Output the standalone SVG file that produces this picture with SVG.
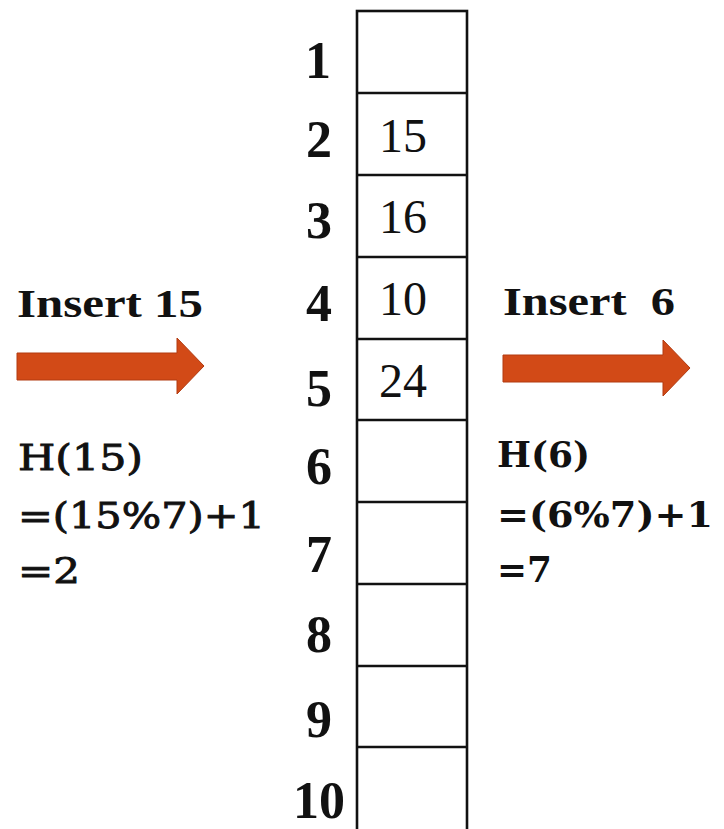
<svg xmlns="http://www.w3.org/2000/svg" width="724" height="829" viewBox="0 0 724 829">
<style>
.cell{fill:#fff;stroke:#111;stroke-width:2.6}
.idx{font-family:"Liberation Serif",serif;font-weight:bold;font-size:52px;fill:#111;text-anchor:middle}
.val{font-family:"Liberation Serif",serif;font-size:48px;fill:#111}
.ins{font-family:"Liberation Serif",serif;font-weight:bold;font-size:41px;fill:#111}
.f{font-family:"DejaVu Serif","Liberation Serif",serif;font-size:35px;fill:#111;stroke:#111;stroke-width:0.9}
.fb{font-family:"DejaVu Serif","Liberation Serif",serif;font-weight:bold;font-size:35px;fill:#111}
.arrow{fill:#D24A17;stroke:#B23A10;stroke-width:1}
</style>
<rect width="724" height="829" fill="#fff"/>
<g id="table">
<rect class="cell" x="357" y="11" width="110" height="830"/>
<g stroke="#111" stroke-width="2.6">
<line x1="357" y1="93" x2="467" y2="93"/>
<line x1="357" y1="175" x2="467" y2="175"/>
<line x1="357" y1="257" x2="467" y2="257"/>
<line x1="357" y1="339" x2="467" y2="339"/>
<line x1="357" y1="420" x2="467" y2="420"/>
<line x1="357" y1="502" x2="467" y2="502"/>
<line x1="357" y1="584" x2="467" y2="584"/>
<line x1="357" y1="666" x2="467" y2="666"/>
<line x1="357" y1="747" x2="467" y2="747"/>
</g>
</g>
<g id="indices">
<text class="idx" x="318" y="78">1</text>
<text class="idx" x="319" y="157">2</text>
<text class="idx" x="319" y="238">3</text>
<text class="idx" x="319" y="321">4</text>
<text class="idx" x="319" y="406">5</text>
<text class="idx" x="319" y="484">6</text>
<text class="idx" x="319" y="572">7</text>
<text class="idx" x="319" y="652">8</text>
<text class="idx" x="319" y="737">9</text>
<text class="idx" x="319" y="818">10</text>
</g>
<g id="values">
<text class="val" x="379" y="152">15</text>
<text class="val" x="379" y="233">16</text>
<text class="val" x="379" y="315">10</text>
<text class="val" x="379" y="397">24</text>
</g>
<g id="insert15">
<text class="ins" x="17" y="317" textLength="186" lengthAdjust="spacingAndGlyphs">Insert 15</text>
<text class="f" x="18" y="470" textLength="125" lengthAdjust="spacingAndGlyphs">H(15)</text>
<text class="f" x="18" y="528" textLength="247" lengthAdjust="spacingAndGlyphs">=(15%7)+1</text>
<text class="f" x="18" y="583" textLength="62" lengthAdjust="spacingAndGlyphs">=2</text>
</g>
<g id="insert6">
<text class="ins" x="503" y="315" xml:space="preserve" textLength="172" lengthAdjust="spacingAndGlyphs">Insert  6</text>
<text class="fb" x="497" y="467" textLength="93" lengthAdjust="spacingAndGlyphs">H(6)</text>
<text class="fb" x="497" y="527" textLength="216" lengthAdjust="spacingAndGlyphs">=(6%7)+1</text>
<text class="fb" x="497" y="582" textLength="55" lengthAdjust="spacingAndGlyphs">=7</text>
</g>
<g id="arrows">
<polygon class="arrow" points="17,353 177,353 177,338 204,366 177,394 177,380 17,380"/>
<polygon class="arrow" points="503,355 663,355 663,340 690,368 663,396 663,382 503,382"/>
</g>
</svg>
